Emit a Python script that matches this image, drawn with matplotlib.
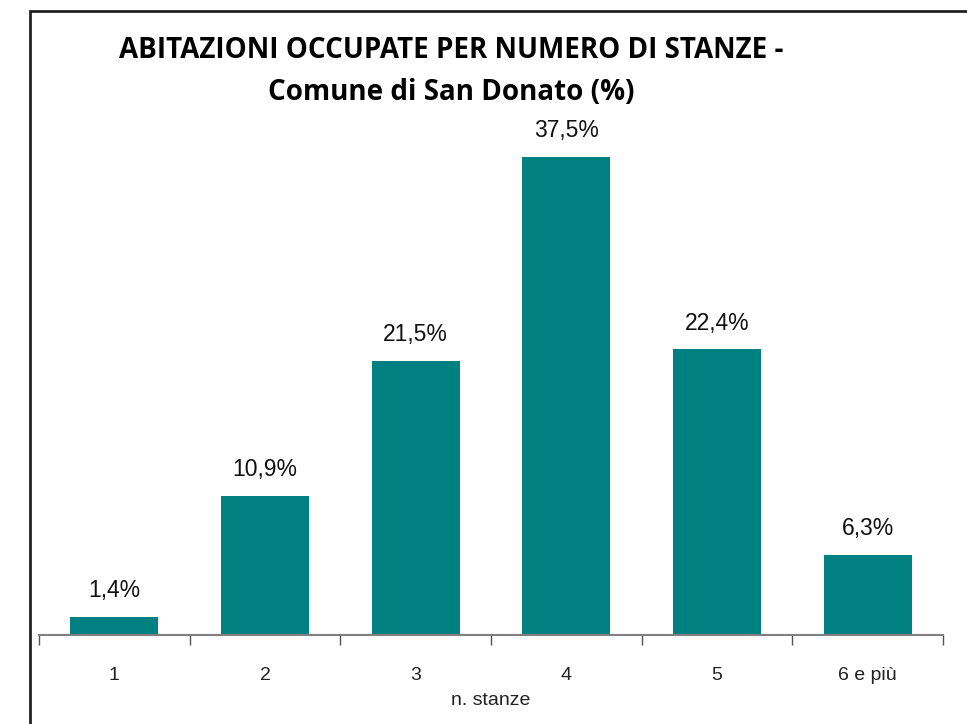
import matplotlib.pyplot as plt
import numpy as np
from matplotlib.patches import Rectangle

categories = ['1', '2', '3', '4', '5', '6 e più']
values = [1.4, 10.9, 21.5, 37.5, 22.4, 6.3]
labels = ['1,4%', '10,9%', '21,5%', '37,5%', '22,4%', '6,3%']

W, H = 967, 724
fig = plt.figure(figsize=(W / 100, H / 100), dpi=100)

# outer frame (left and top edges visible)
fig.patches.append(Rectangle((30 / W, -0.05), 1.2, (H - 11) / H + 0.05,
                             transform=fig.transFigure, fill=False,
                             edgecolor='#222222', linewidth=2, zorder=0))

ax = fig.add_axes([39 / W, (H - 635) / H, (943 - 39) / W, (635 - 125) / H])
x = np.arange(len(categories))
ax.bar(x, values, width=0.585, color='#008080')
for xi, v, lab in zip(x, values, labels):
    ax.annotate(lab, (xi, v), xytext=(0, 19), textcoords='offset points',
                ha='center', va='center', fontsize=16.5, family='Liberation Sans',
                color='#111111')

ax.set_xlim(-0.5, len(categories) - 0.5)
ax.set_ylim(0, 40)
ax.set_yticks([])
for s in ['top', 'right', 'left']:
    ax.spines[s].set_visible(False)
ax.spines['bottom'].set_color('#808080')
ax.spines['bottom'].set_linewidth(1.5)

ax.set_xticks(np.arange(len(categories) + 1) - 0.5)
ax.set_xticklabels([])
ax.tick_params(axis='x', which='major', length=7, color='#555555', width=1)
ax.set_xticks(x, minor=True)
ax.set_xticklabels(categories, minor=True, fontsize=14, family='Liberation Sans', color='#222222')
ax.tick_params(axis='x', which='minor', length=0, pad=23)
ax.set_xlabel('n. stanze', fontsize=14, family='Liberation Sans', color='#222222', labelpad=6)

fig.text(451 / W, (H - 50) / H, 'ABITAZIONI OCCUPATE PER NUMERO DI STANZE -',
         ha='center', va='center', fontsize=20, fontweight='bold', family='Open Sans')
fig.text(451 / W, (H - 93) / H, 'Comune di San Donato (%)',
         ha='center', va='center', fontsize=20, fontweight='bold', family='Open Sans')

fig.savefig('out.png', dpi=100)
